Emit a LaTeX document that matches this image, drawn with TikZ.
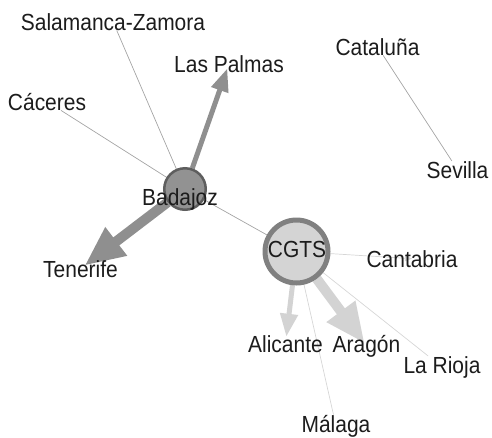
\documentclass[tikz,border=0pt]{standalone}
\usepackage{fontspec}
\setmainfont{Liberation Sans}
\newfontfamily\labelfont[FakeStretch=0.9]{Liberation Sans}
\usetikzlibrary{arrows.meta}
\definecolor{txtgray}{HTML}{1C1C1C}
\definecolor{badfill}{HTML}{929292}
\definecolor{badedge}{HTML}{5E5E5E}
\definecolor{cgtsfill}{HTML}{D4D4D4}
\definecolor{cgtsedge}{HTML}{808080}
\definecolor{badarrow}{HTML}{8F8F8F}
\definecolor{cgtsarrow}{HTML}{D3D3D3}
\definecolor{darkline}{HTML}{A4A4A4}
\definecolor{lightline}{HTML}{D6D6D6}
\pgfdeclarelayer{bg}
\pgfsetlayers{bg,main}
\begin{document}
\begin{tikzpicture}[x=1pt,y=-1pt,
	place/.style={anchor=base,inner sep=0pt,text=txtgray,font=\labelfont\fontsize{23.3}{28}\selectfont},
	hub/.style={circle,inner sep=0pt},
	thinedge/.style={draw=#1,line width=0.7pt},
	smallflow/.style={draw=#1,line width=5pt,shorten >=5pt,-{Triangle[width=17pt,length=23pt]}},
	bigflow/.style={draw=#1,line width=10pt,shorten >=5pt,-{Triangle[width=33pt,length=40pt]}}]
			\useasboundingbox (0,0) rectangle (492,437);
			\node[hub,minimum size=41.5pt,line width=2.5pt,draw=badedge,fill=badfill] (badajoz) at (185,189) {}; % draw badajoz vertex
			\node[hub,minimum size=63pt,line width=5pt,draw=cgtsedge,fill=cgtsfill] (cgts) at (296.5,251.5) {}; % draw cgts vertex
			\node[place] (salamanca) at (113,30) {Salamanca-Zamora};
			\node[place] (laspalmas) at (229,72) {Las Palmas};
			\node[place] (caceres) at (47,110) {Cáceres};
			\node[place] (cataluna) at (377.5,55) {Cataluña};
			\node[place] (sevilla) at (457.5,178) {Sevilla};
			\node[place] (badajozlbl) at (180,205) {Badajoz};
			\node[place] (cgtslbl) at (297,257) {CGTS};
			\node[place] (cantabria) at (412,267) {Cantabria};
			\node[place] (tenerife) at (80.5,277) {Tenerife};
			\node[place] (alicante) at (285.5,352) {Alicante};
			\node[place] (aragon) at (366.5,352) {Aragón};
			\node[place] (larioja) at (442,373) {La Rioja};
			\node[place] (malaga) at (336,432) {Málaga};
			\begin{pgfonlayer}{bg}
			\draw[thinedge=darkline] (badajoz) -- (salamanca); % thin links
			\draw[thinedge=darkline] (badajoz) -- (caceres);
			\draw[thinedge=darkline] (badajoz) -- (cgts);
			\draw[thinedge=darkline] (cataluna) -- (sevilla);
			\draw[thinedge=lightline] (cgts) -- (larioja);
			\draw[thinedge=lightline] (cgts) -- (malaga);
			\draw[thinedge=lightline,-{Triangle[width=6pt,length=7pt]}] (cgts) -- (cantabria.center);
			\draw[bigflow=badarrow] (badajoz) -- (tenerife.center); % heavy arrows
			\draw[smallflow=badarrow] (badajoz) -- (laspalmas.center);
			\draw[smallflow=cgtsarrow,shorten >=7pt] (cgts) -- (alicante.center);
			\draw[bigflow=cgtsarrow,shorten >=3pt] (cgts) -- (aragon.center);
			\end{pgfonlayer}
\end{tikzpicture}
\end{document}
